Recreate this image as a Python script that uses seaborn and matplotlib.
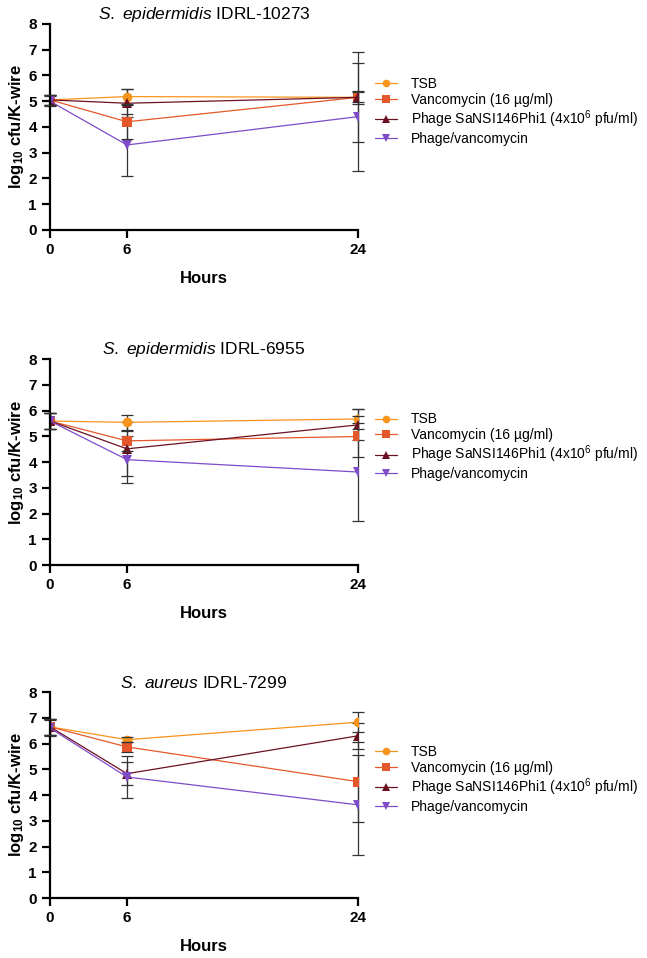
import matplotlib
matplotlib.use('Agg')
import matplotlib.pyplot as plt
import pandas as pd
import seaborn as sns

sns.set_style('ticks')
plt.rcParams['font.family'] = ['Liberation Sans', 'DejaVu Sans']
plt.rcParams['mathtext.fontset'] = 'custom'
plt.rcParams['mathtext.rm'] = 'Liberation Sans'
plt.rcParams['mathtext.it'] = 'Liberation Sans:italic'
plt.rcParams['mathtext.bf'] = 'Liberation Sans:bold'
plt.rcParams['mathtext.default'] = 'regular'
plt.rcParams['text.color'] = 'black'
plt.rcParams['axes.labelcolor'] = 'black'
plt.rcParams['xtick.color'] = 'black'
plt.rcParams['ytick.color'] = 'black'

# data
hours = [0, 6, 24]
groups = ['TSB', 'Vancomycin (16 µg/ml)',
          'Phage SaNSI146Phi1 (4x10$^{6}$ pfu/ml)', 'Phage/vancomycin']
titles = [r'$\it{S.\ epidermidis}$ IDRL-10273',
          r'$\it{S.\ epidermidis}$ IDRL-6955',
          r'$\it{S.\ aureus}$ IDRL-7299']

# mean / sd per panel, per group (0h, 6h, 24h)
epi10273_mean = [[5.05, 5.18, 5.15], [5.05, 4.2, 5.15], [5.05, 4.92, 5.15], [5.0, 3.3, 4.4]]
epi10273_sd = [[0.2, 0.3, 0.2], [0.2, 0.65, 0.25], [0.2, 0.55, 1.75], [0.2, 1.2, 2.1]]
epi6955_mean = [[5.6, 5.55, 5.68], [5.6, 4.83, 5.0], [5.6, 4.52, 5.45], [5.6, 4.1, 3.62]]
epi6955_sd = [[0.3, 0.3, 0.38], [0.3, 0.4, 0.8], [0.3, 1.05, 0.6], [0.3, 0.9, 1.92]]
aur7299_mean = [[6.65, 6.15, 6.83], [6.65, 5.87, 4.52], [6.65, 4.83, 6.3], [6.6, 4.7, 3.62]]
aur7299_sd = [[0.3, 0.1, 0.38], [0.3, 0.2, 1.55], [0.3, 0.45, 0.5], [0.3, 0.8, 1.95]]

panel_means = [epi10273_mean, epi6955_mean, aur7299_mean]
panel_sds = [epi10273_sd, epi6955_sd, aur7299_sd]

colors = ['#F7941D', '#E4572A', '#6B1021', '#7E4CC9']
markers = ['o', 's', '^', 'v']
zorders = [4, 5, 3, 2]

fig = plt.figure(figsize=(6.47, 9.58), dpi=100)
bottoms = [0.760, 0.410, 0.0626]

for p in range(3):
    ax = fig.add_axes([0.0773, bottoms[p], 0.476, 0.215])
    rows = []
    for g in range(4):
        for i in range(3):
            rows.append({'hours': hours[i], 'value': panel_means[p][g][i], 'group': groups[g]})
    df = pd.DataFrame(rows)

    # error bars (mean +/- sd)
    for g in range(4):
        ax.errorbar(hours, panel_means[p][g], yerr=panel_sds[p][g], fmt='none',
                    ecolor='#333333', elinewidth=0.9, capsize=4, capthick=0.9,
                    zorder=1, clip_on=False)

    sns.lineplot(data=df, x='hours', y='value', hue='group', style='group',
                 hue_order=groups, style_order=groups,
                 palette=dict(zip(groups, colors)), markers=dict(zip(groups, markers)),
                 dashes=False, estimator=None, sort=False, linewidth=0.9,
                 markersize=7, markeredgewidth=0, ax=ax)
    data_lines = [l for l in ax.lines if len(l.get_xdata()) == 3]
    for g, line in enumerate(data_lines[:4]):
        line.set_zorder(zorders[g] + 1)
        line.set_clip_on(False)

    ax.set_xlim(0, 24)
    ax.set_ylim(0, 8)
    ax.set_xticks(hours)
    ax.set_yticks(range(0, 9))
    ax.set_title(titles[p], fontsize=12.5, pad=3)
    ax.set_xlabel('Hours', fontsize=12, fontweight='bold', labelpad=10)
    ax.set_ylabel('log$_{10}$ cfu/K-wire', fontsize=12, fontweight='bold', labelpad=2)
    ax.tick_params(axis='both', labelsize=11, width=1.6, length=6, color='black')
    for lab in ax.get_xticklabels() + ax.get_yticklabels():
        lab.set_fontweight('bold')
    sns.despine(ax=ax)
    for s in ['left', 'bottom']:
        ax.spines[s].set_linewidth(1.6)
        ax.spines[s].set_color('black')

    sns.move_legend(ax, 'center left', bbox_to_anchor=(1.055, 0.575), frameon=False,
                    title=None, fontsize=10, handlelength=1.6, handletextpad=1.0,
                    labelspacing=0.12, borderpad=0, borderaxespad=0)
    for h in ax.get_legend().legend_handles:
        h.set_markersize(5.5)
        h.set_markeredgewidth(0)

fig.savefig('out.png', dpi=100)
